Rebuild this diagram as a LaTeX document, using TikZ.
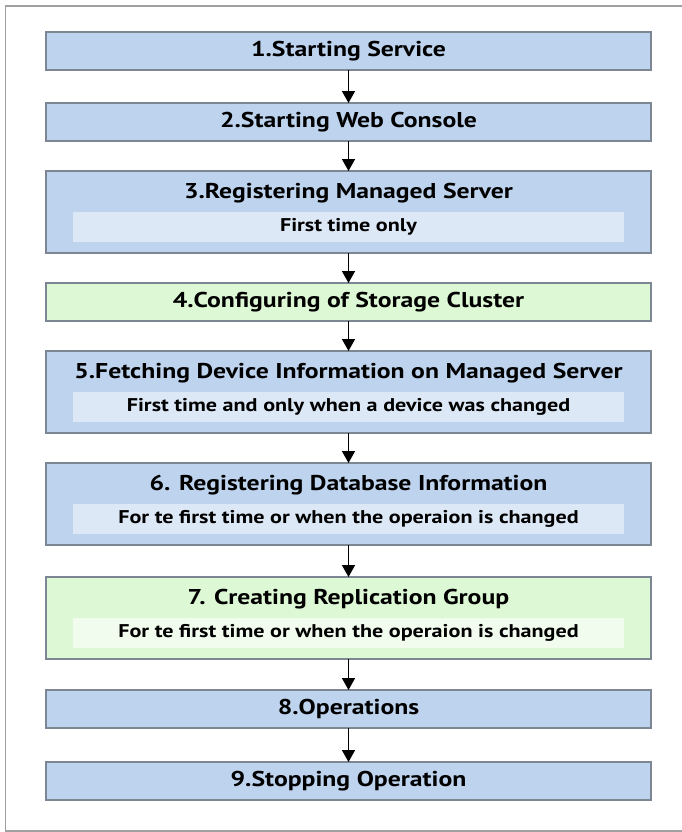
\documentclass[tikz,border=0pt]{standalone}
\usepackage{fontspec}
\setmainfont{PT Sans}[FakeStretch=1.2]
\usepackage{xcolor}
\usetikzlibrary{arrows.meta,positioning}

\definecolor{boxblue}{HTML}{BED3EE}
\definecolor{stripblue}{HTML}{DDE8F6}
\definecolor{boxgreen}{HTML}{DDF8D4}
\definecolor{stripgreen}{HTML}{F1FCEE}
\definecolor{boxline}{HTML}{7D8693}
\definecolor{frameline}{HTML}{A0A0A0}

\begin{document}
\begin{tikzpicture}[
  x=1bp, y=-1bp,
  node distance=30bp,
  every node/.style={font=\fontsize{21.5}{24}\selectfont\bfseries, inner sep=0pt, outer sep=0pt},
  stepbox/.style={draw=boxline, line width=1.2bp, fill=boxblue, minimum width=605bp, minimum height=38bp},
  tallbox/.style={stepbox, minimum height=82bp},
  greenbox/.style={fill=boxgreen},
  strip/.style={fill=stripblue, minimum width=550bp, minimum height=30bp, font=\fontsize{18.5}{21}\selectfont\bfseries},
  greenstrip/.style={strip, fill=stripgreen},
  arrow/.style={-{Triangle[length=12bp,width=13bp]}, line width=1.5bp}
]
\useasboundingbox (0,0) rectangle (682,832);
\clip (0,0) rectangle (682,832);
\draw[frameline, line width=1.2bp] (5.5,6) rectangle (720,831);

\node[stepbox] (s1) at (348.5,51) {1.Starting Service};
\node[stepbox, below=33bp of s1] (s2) {2.Starting Web Console};
\node[tallbox, below=of s2] (s3) {};
\node[stepbox, greenbox, below=of s3] (s4) {4.Configuring of Storage Cluster};
\node[tallbox, below=of s4] (s5) {};
\node[tallbox, below=of s5] (s6) {};
\node[tallbox, greenbox, below=32bp of s6] (s7) {};
\node[stepbox, below=31bp of s7] (s8) {8.Operations};
\node[stepbox, below=34bp of s8] (s9) {9.Stopping Operation};

% titles and notes inside the tall boxes
\node at ([yshift=-22bp]s3.north) (t3) {3.Registering Managed Server};
\node[strip, anchor=south] at ([yshift=11bp]s3.south) (n3) {First time only};
\node at ([yshift=-22bp]s5.north) (t5) {5.Fetching Device Information on Managed Server};
\node[strip, anchor=south] at ([yshift=11bp]s5.south) (n5) {First time and only when a device was changed};
\node at ([yshift=-22bp]s6.north) (t6) {6. Registering Database Information};
\node[strip, anchor=south] at ([yshift=11bp]s6.south) (n6) {For te first time or when the operaion is changed};
\node at ([yshift=-22bp]s7.north) (t7) {7. Creating Replication Group};
\node[greenstrip, anchor=south] at ([yshift=11bp]s7.south) (n7) {For te first time or when the operaion is changed};

\foreach \a/\b in {s1/s2, s2/s3, s3/s4, s4/s5, s5/s6, s6/s7, s7/s8, s8/s9}
  \draw[arrow] (\a) -- (\b);
\end{tikzpicture}
\end{document}
